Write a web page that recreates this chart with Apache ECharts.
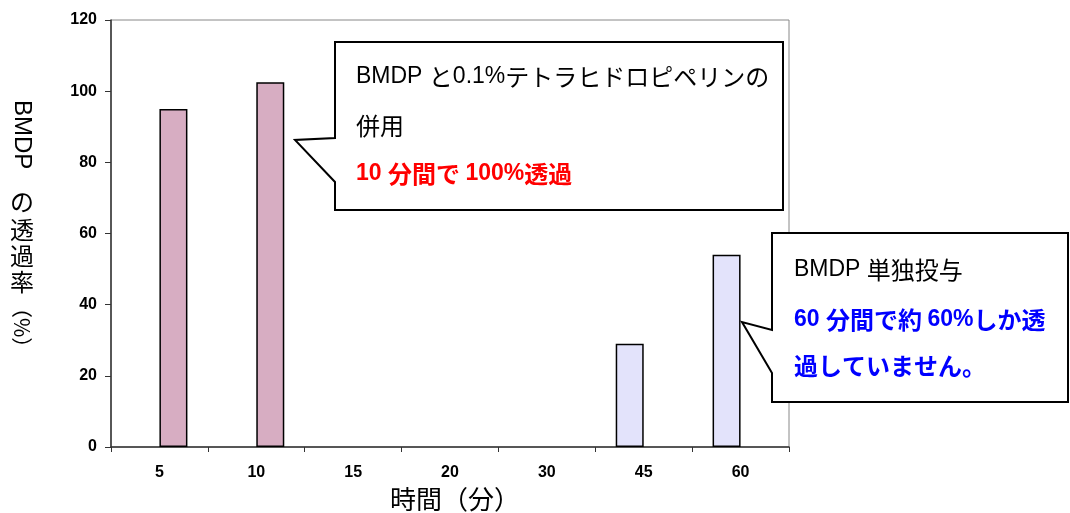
<!DOCTYPE html>
<html>
<head>
<meta charset="utf-8">
<script src="https://cdn.jsdelivr.net/npm/echarts@6/dist/echarts.min.js"></script>
<style>
html,body{margin:0;padding:0;background:#fff;}
#main{width:1070px;height:513px;}
</style>
</head>
<body>
<div id="main"></div>
<script>
const categories = ['5', '10', '15', '20', '30', '45', '60'];
const aloneValues = [null, null, null, null, null, 29, 54];      // BMDP 単独投与
const comboValues = [95, 102.5, null, null, null, null, null];   // BMDP + 0.1%テトラヒドロピペリン
const yTicks = [0, 20, 40, 60, 80, 100, 120];

const LATIN = '"Liberation Sans", Arial, sans-serif';
const CJK = '"Noto Sans CJK JP", sans-serif';
const chart = echarts.init(document.getElementById('main'), null, {renderer: 'canvas'});

function richText(x, y, text, color, bold) {
  const w = bold ? 'bold' : 'normal';
  return {
    type: 'text', x: x, y: y, z: 100,
    style: {
      text: text, fill: color, textAlign: 'left', textVerticalAlign: 'middle',
      fontFamily: CJK, fontSize: 24,
      rich: {
        a: {fontFamily: LATIN, fontSize: 23, fontWeight: w, fill: color, color: color},
        c: {fontFamily: CJK, fontSize: 24, fontWeight: w, fill: color, color: color}
      }
    }
  };
}
function plain(x, y, text, size, font, rot) {
  return {type: 'text', x: x, y: y, z: 100, rotation: rot || 0,
    style: {text: text, fontFamily: font, fontSize: size, fill: '#000',
            textAlign: rot ? 'left' : 'center', textVerticalAlign: 'middle'}};
}

const graphics = [
  // callout 1
  {type: 'polygon', z: 90, shape: {points: [[335,42],[783,42],[783,210],[335,210],[335,182],[295,140],[335,138]]},
   style: {fill: '#fff', stroke: '#000', lineWidth: 2}},
  richText(356, 77, '{a|BMDP }{c|と}{a|0.1%}{c|テトラヒドロピペリンの}', '#000', false),
  richText(356, 126, '{c|併用}', '#000', false),
  richText(356, 174, '{a|10 }{c|分間で }{a|100%}{c|透過}', '#ff0000', true),
  // callout 2
  {type: 'polygon', z: 90, shape: {points: [[772,233],[1068,233],[1068,402],[772,402],[772,373],[742,322],[772,330]]},
   style: {fill: '#fff', stroke: '#000', lineWidth: 2}},
  richText(794, 270, '{a|BMDP }{c|単独投与}', '#000', false),
  richText(794, 320, '{a|60 }{c|分間で約 }{a|60%}{c|しか透}', '#0000ff', true),
  richText(794, 366, '{c|過していません。}', '#0000ff', true),
  // vertical y-axis title (tategaki)
  plain(22, 100, 'BMDP', 24, LATIN, -Math.PI / 2),
  plain(22, 202, 'の', 24, CJK),
  plain(22, 230, '透', 24, CJK),
  plain(22, 256, '過', 24, CJK),
  plain(22, 282, '率', 24, CJK),
  plain(22, 297, '（%）', 21, CJK, -Math.PI / 2)
];

const option = {
  backgroundColor: '#fff',
  animation: false,
  grid: {left: 111, right: 281, top: 20, bottom: 66, show: true, borderColor: '#888', borderWidth: 1,
         containLabel: false, outerBoundsMode: 'none'},
  xAxis: {
    type: 'category',
    data: categories,
    name: '時間（分）',
    nameLocation: 'middle',
    nameGap: 36,
    nameTextStyle: {fontFamily: CJK, fontSize: 26, color: '#000', padding: [0, 0, 0, 10]},
    axisLine: {lineStyle: {color: '#333', width: 1.5}},
    axisTick: {show: true, length: 5, inside: false, lineStyle: {color: '#333'}},
    axisLabel: {fontFamily: LATIN, fontWeight: 'bold', fontSize: 16, color: '#000', margin: 18},
    splitLine: {show: false}
  },
  yAxis: {
    type: 'value',
    min: 0, max: 120, interval: 20,
    axisLine: {show: true, lineStyle: {color: '#333', width: 1.5}},
    axisTick: {show: true, length: 6, lineStyle: {color: '#333'}},
    axisLabel: {fontFamily: LATIN, fontWeight: 'bold', fontSize: 16, color: '#000', margin: 14,
      formatter: function (v) { return yTicks.indexOf(v) >= 0 ? String(v) : ''; }},
    splitLine: {show: false}
  },
  series: [
    {type: 'bar', name: 'BMDP 単独投与', data: aloneValues, barWidth: 28, barGap: '0%',
     itemStyle: {color: '#e3e3fb', borderColor: '#000', borderWidth: 1.5}},
    {type: 'bar', name: 'BMDP + 0.1%テトラヒドロピペリン', data: comboValues, barWidth: 28, barGap: '0%',
     itemStyle: {color: '#d7adc2', borderColor: '#000', borderWidth: 1.5}}
  ],
  graphic: graphics
};
chart.setOption(option);
</script>
</body>
</html>
